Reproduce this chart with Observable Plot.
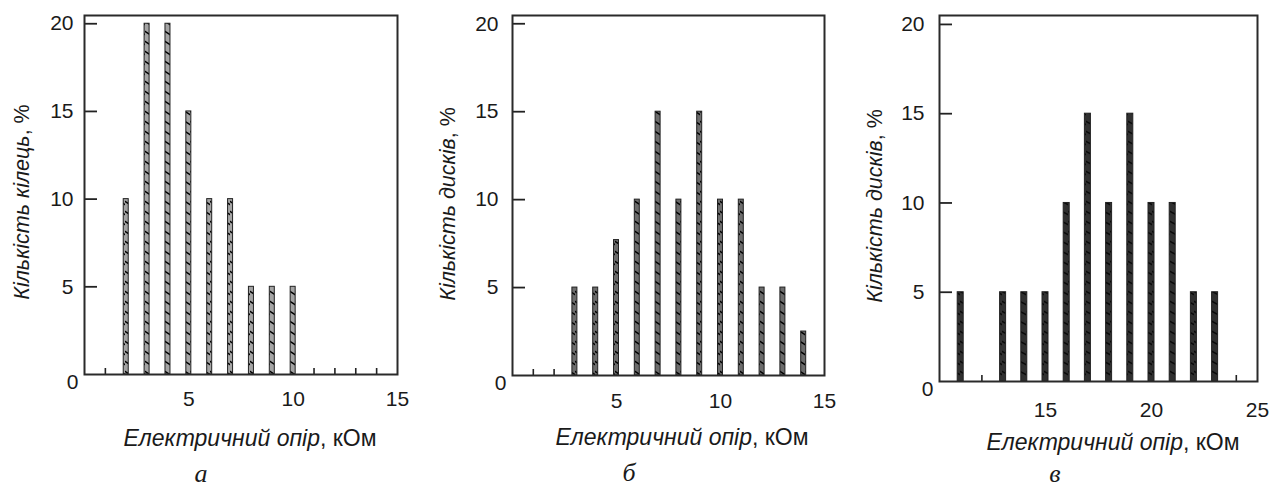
<!DOCTYPE html>
<html><head><meta charset="utf-8">
<script src="https://cdn.jsdelivr.net/npm/d3@7"></script>
<script src="https://cdn.jsdelivr.net/npm/@observablehq/plot@0.6"></script>
<style>
body{margin:0;background:#fff;}
#root{position:relative;width:1269px;height:488px;overflow:hidden;font-family:"Liberation Sans",Arial,sans-serif;color:#1a1a1a;}
.panel{position:absolute;top:0;}
.ylab,.xlab{position:absolute;white-space:nowrap;}
.ylab{font-size:21.5px;line-height:22px;transform:translate(-50%,-50%) rotate(-90deg);}
.xlab{font-size:23px;line-height:23px;transform:translateX(-50%);}
.cap{position:absolute;font-family:"Liberation Serif","Times New Roman",serif;font-style:italic;font-size:26px;line-height:22px;transform:translateX(-50%);}
</style></head><body><div id="root"></div>
<script>
// ---- data ----
const xA = [2, 3, 4, 5, 6, 7, 8, 9, 10];
const yA = [10, 20, 20, 15, 10, 10, 5, 5, 5];
const xB = [3, 4, 5, 6, 7, 8, 9, 10, 11, 12, 13, 14];
const yB = [5, 5, 7.7, 10, 15, 10, 15, 10, 10, 5, 5, 2.5];
const xC = [11, 13, 14, 15, 16, 17, 18, 19, 20, 21, 22, 23];
const yC = [5, 5, 5, 5, 10, 15, 10, 15, 10, 10, 5, 5];
const yTickValues = [5, 10, 15, 20];
const xTicksAB = [5, 10, 15];
const xTicksC = [15, 20, 25];
const xDomainAB = [0, 15];
const xDomainC = [10, 25];
const yLabels = ["Кількість кілець", "Кількість дисків", "Кількість дисків"];
const yUnit = ", %";
const xLabel = "Електричний опір";
const xUnit = ", кОм";
const captions = ["а", "б", "в"];

// ---- layout ----
const panels = [
  {xs: xA, ys: yA, xTicks: xTicksAB, dom: xDomainAB, left: 0, width: 420, mL: 84, mR: 23, mT: 15, mB: 46, yMax: 20.47,
   fill: "#a4a4a4", dash: "#000", barW: 5, yPad: 11, xPad: 17, ylab: [22, 202], xlab: [250, 427], cap: [201, 463]},
  {xs: xB, ys: yB, xTicks: xTicksAB, dom: xDomainAB, left: 420, width: 420, mL: 92, mR: 16, mT: 15, mB: 45, yMax: 20.47,
   fill: "#6c6c6c", dash: "#000", barW: 5, yPad: 14, xPad: 18, ylab: [448, 204], xlab: [682, 426], cap: [629, 462]},
  {xs: xC, ys: yC, xTicks: xTicksC, dom: xDomainC, left: 840, width: 429, mL: 99, mR: 12, mT: 15, mB: 39, yMax: 20.5,
   fill: "#303030", dash: "#0a0a0a", barW: 6, yPad: 15, xPad: 21, ylab: [875, 206], xlab: [1113, 431], cap: [1055, 463]}
];

const root = document.getElementById("root");
const H = 420;
panels.forEach((p, i) => {
  const data = p.xs.map((x, k) => ({x, y: p.ys[k]}));
  const pxPerUnit = (p.width - p.mL - p.mR) / (p.dom[1] - p.dom[0]);
  const ins = (pxPerUnit - p.barW) / 2;
  const minor = d3.range(p.dom[0] + 1, p.dom[1]);
  const svg = Plot.plot({
    width: p.width, height: H,
    marginLeft: p.mL, marginRight: p.mR, marginTop: p.mT, marginBottom: p.mB,
    style: {fontFamily: "'Liberation Sans', Arial, sans-serif", fontSize: "21px", color: "#1a1a1a", background: "transparent"},
    x: {domain: p.dom},
    y: {domain: [0, p.yMax]},
    marks: [
      Plot.ruleX(minor, {x: d => d, y1: 0, y2: 0, insetTop: -6, stroke: "#222", strokeWidth: 1.6}),
      Plot.ruleY(yTickValues, {y: d => d, x1: p.dom[0], x2: p.dom[0], insetRight: -13, stroke: "#222", strokeWidth: 1.8}),
      Plot.rectY(data, {x1: d => d.x - 0.5, x2: d => d.x + 0.5, y1: 0, y2: "y", insetLeft: ins, insetRight: ins,
        fill: `url(#hatch${i})`, stroke: "#222", strokeWidth: 1}),
      Plot.frame({stroke: "#2a2a2a", strokeWidth: 2}),
      Plot.axisX(p.xTicks, {tickSize: 0, tickPadding: p.xPad, label: null, fontSize: 21}),
      Plot.axisY(yTickValues, {tickSize: 0, tickPadding: p.yPad, label: null, fontSize: 21}),
      Plot.text([0], {x: p.dom[0], y: 0, text: d => String(d), textAnchor: "end", dx: -6, dy: 8, fontSize: 21, fill: "#1a1a1a"})
    ]
  });
  const ns = "http://www.w3.org/2000/svg";
  const defs = document.createElementNS(ns, "defs");
  defs.innerHTML = `<pattern id="hatch${i}" patternUnits="userSpaceOnUse" width="${p.barW}" height="10">
      <rect width="${p.barW}" height="10" fill="${p.fill}"/>
      <path d="M-0.5,1 L${p.barW + 0.5},5" stroke="${p.dash}" stroke-width="1.5"/></pattern>`;
  svg.insertBefore(defs, svg.firstChild);
  const wrap = document.createElement("div");
  wrap.className = "panel";
  wrap.style.left = p.left + "px";
  wrap.appendChild(svg);
  root.appendChild(wrap);

  const yl = document.createElement("div");
  yl.className = "ylab";
  yl.style.left = p.ylab[0] + "px"; yl.style.top = p.ylab[1] + "px";
  yl.innerHTML = `<i>${yLabels[i]}</i>${yUnit}`;
  root.appendChild(yl);

  const xl = document.createElement("div");
  xl.className = "xlab";
  xl.style.left = p.xlab[0] + "px"; xl.style.top = p.xlab[1] + "px";
  xl.innerHTML = `<i>${xLabel}</i>${xUnit}`;
  root.appendChild(xl);

  const cp = document.createElement("div");
  cp.className = "cap";
  cp.style.left = p.cap[0] + "px"; cp.style.top = p.cap[1] + "px";
  cp.textContent = captions[i];
  root.appendChild(cp);
});
</script></body></html>
